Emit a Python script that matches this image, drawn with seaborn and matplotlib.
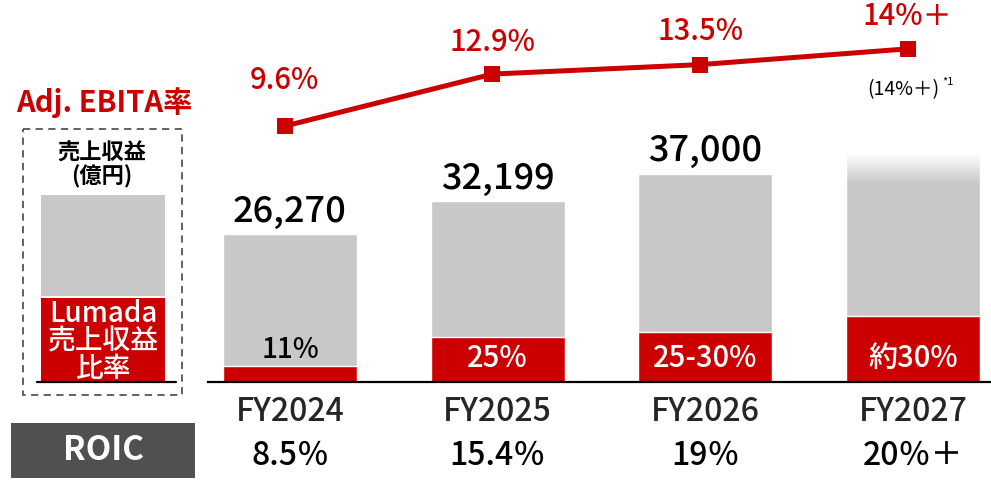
import numpy as np
import pandas as pd
import matplotlib.pyplot as plt
import seaborn as sns
from matplotlib.patches import Rectangle

# data
years = ["FY2024", "FY2025", "FY2026", "FY2027"]
revenue = [26270, 32199, 37000, 40600]          # FY2027 bar is faded, no figure printed
revenue_labels = ["26,270", "32,199", "37,000", ""]
lumada_share = [0.11, 0.25, 0.24, 0.29]
lumada_labels = ["11%", "25%", "25-30%", "約30%"]
ebita = [9.6, 12.9, 13.5, 14.5]
ebita_labels = ["9.6%", "12.9%", "13.5%", "14%＋"]
roic_labels = ["8.5％", "15.4％", "19％", "20％＋"]

RED = "#CC0000"
GRAY = "#C8C8C8"
WT = "medium"

sns.set_theme(style="white")
plt.rcParams["font.family"] = ["Noto Sans CJK JP", "DejaVu Sans"]

W, H = 991, 483
fig = plt.figure(figsize=(W / 100, H / 100), dpi=100)

# ---- main bar axes ----
base = 382
ax = fig.add_axes([208 / W, (H - base) / H, (W - 208) / W, base / H])
df = pd.DataFrame({
    "year": years,
    "revenue": revenue,
    "lumada": [r * s for r, s in zip(revenue, lumada_share)],
})
sns.barplot(data=df, x="year", y="revenue", color=GRAY, width=0.645,
            saturation=1, ax=ax)
sns.barplot(data=df, x="year", y="lumada", color=RED, width=0.645,
            saturation=1, ax=ax)
for s in ["top", "right", "left"]:
    ax.spines[s].set_visible(False)
ax.spines["bottom"].set_color("black")
ax.spines["bottom"].set_linewidth(1.6)
ax.set_yticks([])
ax.set_xlabel("")
ax.set_ylabel("")
ax.set_xticks(range(len(years)))
ax.set_xticklabels(years, fontweight=WT)
ax.tick_params(axis="x", length=0, pad=10, labelsize=23)

# fade top of the FY2027 bar into white
fade = np.zeros((50, 1, 4))
fade[..., :3] = 1
fade[..., 3] = np.linspace(1, 0, 50).reshape(-1, 1)
ax.imshow(fade, extent=(3 - 0.3225, 3 + 0.3225, revenue[3] - 5500, revenue[3]),
          origin="upper", aspect="auto", zorder=5)
ax.set_xlim(-0.395, 3.376)
ax.set_ylim(0, 67800)

for i, lab in enumerate(revenue_labels):
    if lab:
        ax.annotate(lab, (i, revenue[i]), xytext=(0, 3), textcoords="offset points",
                    ha="center", va="bottom", fontsize=26, fontweight=WT, color="black")

for i, lab in enumerate(lumada_labels):
    if i == 0:
        ax.annotate(lab, (i, df["lumada"][i]), xytext=(0, 1), textcoords="offset points",
                    ha="center", va="bottom", fontsize=20, fontweight=WT, color="black")
    else:
        ax.annotate(lab, (i, 0), xytext=(0, 17), textcoords="offset points",
                    ha="center", va="center", fontsize=21, fontweight=WT, color="white")

for i, lab in enumerate(roic_labels):
    ax.annotate(lab, (i, 0), xytext=(0, -53), textcoords="offset points",
                ha="center", va="center", fontsize=23, fontweight=WT, color="black")

# ---- Adj. EBITA line ----
ax2 = ax.twinx()
xs = np.arange(len(years)) - 0.025
sns.lineplot(x=xs, y=ebita, color=RED, linewidth=3.6, marker="s", markersize=11.5,
             markeredgewidth=0, ax=ax2)
ax2.set_ylim(-6.64, 17.6)
ax2.set_xlim(-0.395, 3.376)
ax2.axis("off")
label_off = [33, 23, 24, 23]
for i, lab in enumerate(ebita_labels):
    ax2.annotate(lab, (xs[i], ebita[i]), xytext=(0, label_off[i]), textcoords="offset points",
                 ha="center", va="center", fontsize=21, fontweight=WT, color=RED)
ax2.annotate("(14%＋)", (xs[3], ebita[3]), xytext=(-3, -29), textcoords="offset points",
             ha="center", va="center", fontsize=14, color="black")
ax2.annotate("*1", (xs[3], ebita[3]), xytext=(25, -24), textcoords="offset points",
             ha="left", va="center", fontsize=8, color="black")

# ---- left-hand key ----
key = fig.add_axes([0, 0, 1, 1], zorder=-1)
key.set_xlim(0, W)
key.set_ylim(H, 0)
key.axis("off")
key.text(104, 103, "Adj. EBITA率", ha="center", va="center", fontsize=21,
         fontweight="bold", color=RED)
key.add_patch(Rectangle((23, 129), 159, 266, fill=False, edgecolor="#555555",
                        linestyle=(0, (4, 3)), linewidth=1.3))
key.text(102, 165, "売上収益\n(億円)", ha="center", va="center", fontsize=16,
         fontweight="bold", color="black", linespacing=1.0)
key.add_patch(Rectangle((41, 195), 124, 101, color=GRAY, lw=0))
key.add_patch(Rectangle((41, 298), 124, 84, color=RED, lw=0))
key.plot([37, 176], [382, 382], color="black", lw=1.6)
key.text(103, 341, "Lumada\n売上収益\n比率", ha="center", va="center", fontsize=20,
         fontweight=WT, color="white", linespacing=0.95)
key.add_patch(Rectangle((11, 423), 184, 55, color="#505050", lw=0))
key.text(103, 450, "ROIC", ha="center", va="center", fontsize=24,
         fontweight="bold", color="white")

fig.savefig("out.png", dpi=100)
